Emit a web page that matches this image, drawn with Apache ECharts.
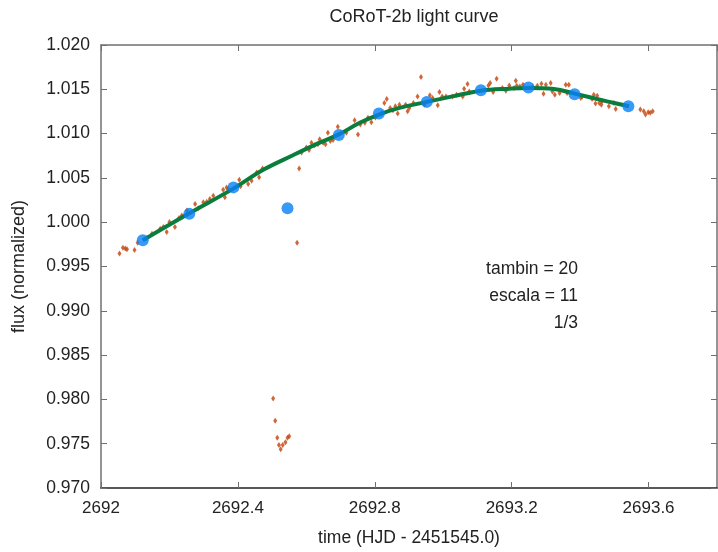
<!DOCTYPE html>
<html>
<head>
<meta charset="utf-8">
<script src="https://cdn.jsdelivr.net/npm/echarts@6/dist/echarts.min.js"></script>
<style>html,body{margin:0;padding:0;background:#fff;width:100%;height:100%;overflow:hidden;}#c{width:100%;height:100%;}</style>
</head>
<body>
<div id="c"></div>
<script>
// Raw light-curve points (time, flux)
var rawTime = [2692.054,2692.064,2692.071,2692.076,2692.098,2692.107,2692.134,2692.149,2692.173,2692.182,2692.192,2692.200,2692.216,2692.228,2692.236,2692.251,2692.275,2692.284,2692.299,2692.309,2692.318,2692.328,2692.357,2692.362,2692.367,2692.372,2692.404,2692.408,2692.430,2692.440,2692.455,2692.462,2692.472,2692.503,2692.509,2692.515,2692.520,2692.525,2692.531,2692.539,2692.545,2692.550,2692.573,2692.579,2692.586,2692.600,2692.608,2692.615,2692.624,2692.634,2692.639,2692.649,2692.656,2692.663,2692.670,2692.678,2692.692,2692.717,2692.741,2692.751,2692.758,2692.771,2692.780,2692.790,2692.802,2692.820,2692.828,2692.835,2692.845,2692.853,2692.860,2692.867,2692.872,2692.890,2692.896,2692.901,2692.913,2692.925,2692.935,2692.945,2692.961,2692.969,2692.984,2692.989,2692.997,2693.008,2693.027,2693.039,2693.057,2693.061,2693.071,2693.076,2693.132,2693.137,2693.146,2693.156,2693.173,2693.183,2693.193,2693.207,2693.212,2693.215,2693.224,2693.233,2693.262,2693.275,2693.287,2693.293,2693.300,2693.314,2693.319,2693.326,2693.340,2693.358,2693.362,2693.367,2693.402,2693.406,2693.435,2693.440,2693.445,2693.450,2693.456,2693.462,2693.464,2693.484,2693.499,2693.504,2693.576,2693.586,2693.591,2693.599,2693.605,2693.612];
var rawFlux = [0.99646,0.99713,0.99702,0.99694,0.99687,0.99769,0.99822,0.99870,0.99926,0.99945,0.99889,1.00001,0.99945,1.00046,1.00075,1.00131,1.00206,1.00158,1.00225,1.00232,1.00262,1.00299,1.00367,1.00281,1.00393,1.00374,1.00479,1.00405,1.00430,1.00467,1.00562,1.00506,1.00607,0.98009,0.97759,0.97568,0.97485,0.97437,0.97485,0.97516,0.97568,0.97583,0.99769,1.00607,1.00786,1.00842,1.00815,1.00898,1.00868,1.00879,1.00935,1.00898,1.00879,1.01010,1.00916,1.00927,1.01077,1.01010,1.01151,1.00991,1.01103,1.01122,1.01178,1.01129,1.01182,1.01226,1.01346,1.01391,1.01290,1.01263,1.01308,1.01226,1.01327,1.01327,1.01252,1.01290,1.01346,1.01420,1.01638,1.01327,1.01432,1.01402,1.01320,1.01470,1.01420,1.01420,1.01420,1.01439,1.01420,1.01507,1.01559,1.01476,1.01544,1.01571,1.01470,1.01619,1.01515,1.01484,1.01544,1.01515,1.01596,1.01540,1.01533,1.01552,1.01529,1.01540,1.01563,1.01451,1.01552,1.01571,1.01476,1.01439,1.01458,1.01552,1.01458,1.01552,1.01402,1.01420,1.01391,1.01439,1.01339,1.01428,1.01346,1.01327,1.01364,1.01308,1.01346,1.01279,1.01271,1.01252,1.01215,1.01241,1.01234,1.01252];

// Binned points
var binTime = [2692.122,2692.258,2692.387,2692.545,2692.695,2692.812,2692.952,2693.110,2693.249,2693.384,2693.541];
var binFlux = [0.99795,1.00094,1.00393,1.00158,1.00983,1.01226,1.01358,1.01490,1.01520,1.01445,1.01308];

// Fitted curve
var fitTime = [2692.122,2692.258,2692.388,2692.474,2692.561,2692.639,2692.695,2692.756,2692.812,2692.872,2692.952,2693.027,2693.110,2693.193,2693.248,2693.324,2693.384,2693.479,2693.543];
var fitFlux = [0.99795,1.00100,1.00382,1.00591,1.00756,1.00898,1.00991,1.01122,1.01215,1.01290,1.01358,1.01420,1.01484,1.01507,1.01515,1.01503,1.01451,1.01364,1.01308];

var annotations = ['tambin = 20', 'escala = 11', '1/3'];

function zip(a, b) { return a.map(function (v, i) { return [v, b[i]]; }); }

var FONT = 'Liberation Sans, Arial, sans-serif';
var chart = echarts.init(document.getElementById('c'), null, {renderer: 'canvas'});
var axisGray = '#707070';
var tickStyle = {show: true, inside: true, length: 6, lineStyle: {color: axisGray, width: 1}};

chart.setOption({
  backgroundColor: '#ffffff',
  animation: false,
  title: {
    text: 'CoRoT-2b light curve',
    left: 409, top: 3, textAlign: 'center',
    textStyle: {fontFamily: FONT, fontSize: 18, fontWeight: 'normal', color: '#222'}
  },
  grid: {left: 101, right: 1, top: 45, bottom: 50, containLabel: false},
  xAxis: [{
    type: 'value', min: 2692, max: 2693.8, interval: 0.4,
    name: 'time (HJD - 2451545.0)', nameLocation: 'middle', nameGap: 41,
    nameTextStyle: {fontFamily: FONT, fontSize: 17.5, color: '#222'},
    axisLine: {show: true, lineStyle: {color: '#222', width: 1.5}},
    axisTick: tickStyle,
    splitLine: {show: false},
    axisLabel: {fontFamily: FONT, fontSize: 17, color: '#222', margin: 12, showMaxLabel: false,
      formatter: function (v) { return String(+v.toFixed(1)); }}
  }, {
    type: 'value', min: 2692, max: 2693.8, interval: 0.4, position: 'top',
    axisLine: {show: true, lineStyle: {color: axisGray, width: 1.5}},
    axisTick: tickStyle, axisLabel: {show: false}, splitLine: {show: false}
  }],
  yAxis: [{
    type: 'value', min: 0.97, max: 1.02, interval: 0.005,
    name: 'flux (normalized)', nameLocation: 'middle', nameGap: 73, nameRotate: 90,
    nameTextStyle: {fontFamily: FONT, fontSize: 18, color: '#222'},
    axisLine: {show: true, lineStyle: {color: axisGray, width: 1.5}},
    axisTick: tickStyle,
    splitLine: {show: false},
    axisLabel: {fontFamily: FONT, fontSize: 17.5, color: '#222', margin: 11,
      formatter: function (v) { return v.toFixed(3); }}
  }, {
    type: 'value', min: 0.97, max: 1.02, interval: 0.005, position: 'right',
    axisLine: {show: true, lineStyle: {color: axisGray, width: 1.5}},
    axisTick: tickStyle, axisLabel: {show: false}, splitLine: {show: false}
  }],
  graphic: annotations.map(function (t, i) {
    return {type: 'text', right: 718 - 578, top: 260 + i * 27, z: 10,
      style: {text: t, fontFamily: FONT, fontSize: 17.5, fill: '#222', textAlign: 'right'}};
  }),
  series: [{
    type: 'scatter', name: 'raw', data: zip(rawTime, rawFlux),
    symbol: 'diamond', symbolSize: [4, 6],
    itemStyle: {color: '#c2420a'}, z: 2
  }, {
    type: 'line', name: 'fit', data: zip(fitTime, fitFlux), smooth: 0.4,
    showSymbol: false, symbol: 'none',
    lineStyle: {color: '#0a7d3c', width: 4}, z: 3
  }, {
    type: 'scatter', name: 'bins', data: zip(binTime, binFlux),
    symbol: 'circle', symbolSize: 12,
    itemStyle: {color: '#0780f5'}, z: 4
  }]
});
</script>
</body>
</html>
